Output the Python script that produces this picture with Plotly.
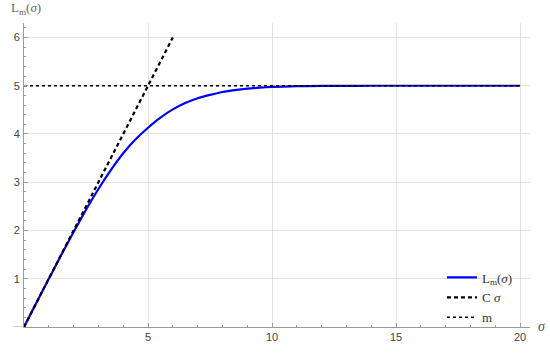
import plotly.graph_objects as go

# values
sigma = [0, 0.5, 1, 1.5, 2, 2.5, 3, 3.5, 4, 4.5, 5, 5.5, 6, 6.5, 7, 7.5, 8, 8.5, 9, 9.5,
         10, 11, 12, 13, 14, 15, 20]
L_m = [0, 0.5, 1.0, 1.49, 1.97, 2.43, 2.86, 3.25, 3.6, 3.89, 4.13, 4.34, 4.51, 4.64, 4.74,
       4.81, 4.87, 4.91, 4.94, 4.96, 4.975, 4.99, 4.995, 4.998, 5.0, 5.0, 5.0]

# C*sigma line (C = 1) and the level m = 5
c_sigma_x = [0, 6]
c_sigma_y = [0, 6]
m_x = [0, 20]
m_y = [5, 5]

x_ticks = [5, 10, 15, 20]
y_ticks = [1, 2, 3, 4, 5, 6]

serif = "Liberation Serif, Times New Roman, serif"
sans = "Liberation Sans, Arial, sans-serif"

fig = go.Figure()
fig.add_trace(go.Scatter(x=sigma, y=L_m, mode='lines',
                         line=dict(color='#0000ff', width=2.2, shape='spline', smoothing=0.6),
                         name='L<sub>m</sub>(<i>σ</i>)'))
fig.add_trace(go.Scatter(x=c_sigma_x, y=c_sigma_y, mode='lines',
                         line=dict(color='black', width=2.2, dash='4px,3px'),
                         name='C <i>σ</i>'))
fig.add_trace(go.Scatter(x=m_x, y=m_y, mode='lines',
                         line=dict(color='black', width=1.6, dash='dot'),
                         name='m'))

axis_common = dict(showgrid=True, gridcolor='#e3e3e3', gridwidth=1, zeroline=False,
                   showline=True, linecolor='#9a9a9a', linewidth=1,
                   ticks='inside', ticklen=4, tickcolor='#9a9a9a',
                   tickfont=dict(family=sans, size=11, color='#444444'))

fig.update_xaxes(range=[0, 20.4], tickvals=x_ticks,
                 minor=dict(dtick=1, ticks='inside', ticklen=2, tickcolor='#9a9a9a', showgrid=False),
                 **axis_common)
fig.update_yaxes(range=[0, 6.3], tickvals=y_ticks, ticklabelstandoff=1,
                 minor=dict(dtick=0.2, ticks='inside', ticklen=2, tickcolor='#9a9a9a', showgrid=False),
                 **axis_common)

# extension of the horizontal axis to the left of the origin
fig.add_shape(type='line', xref='paper', yref='y', x0=-0.022, x1=0, y0=0, y1=0,
              line=dict(color='#9a9a9a', width=1))

fig.add_annotation(text='L<sub>m</sub>(<i>σ</i>)', xref='paper', yref='paper', x=-0.03, y=1.012,
                   xanchor='left', yanchor='bottom', showarrow=False,
                   font=dict(family=serif, size=13, color='#666666'))
fig.add_annotation(text='σ', xref='paper', yref='paper', x=1.0, y=0.0,
                   xanchor='left', yanchor='middle', xshift=6, yshift=1, showarrow=False,
                   font=dict(family=serif, size=14, color='#555555', style='italic'))

fig.update_layout(
    width=550, height=355,
    margin=dict(l=24, r=20, t=23, b=19),
    paper_bgcolor='white', plot_bgcolor='white',
    legend=dict(x=0.826, y=-0.018, xanchor='left', yanchor='bottom',
                bgcolor='rgba(0,0,0,0)', font=dict(family=serif, size=13, color='#333333'),
                tracegroupgap=0, itemwidth=30),
)

# keep the page exactly the figure size (no body margin, nothing spilling below)
page_fix = ("document.documentElement.style.overflow='hidden';"
            "document.body.style.margin='0';"
            "document.body.style.height='355px';"
            "document.body.style.overflow='hidden';")
fig.write_html("out.html", config={'displayModeBar': False}, post_script=page_fix)
